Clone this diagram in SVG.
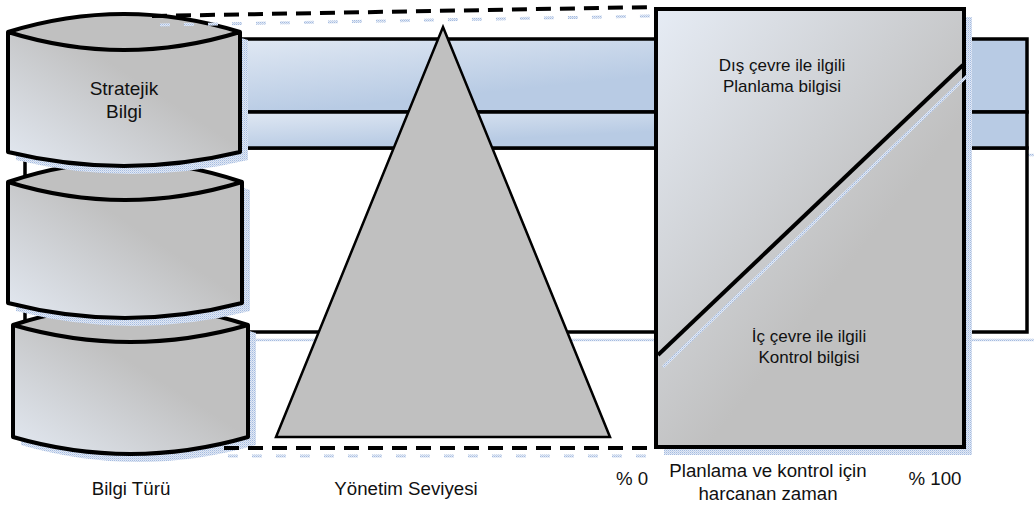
<svg xmlns="http://www.w3.org/2000/svg" width="1034" height="506" viewBox="0 0 1034 506">
  <style>
    .lbl { font-family: "Liberation Sans", Arial, sans-serif; fill: #111; text-anchor: middle; }
    .edge { fill: none; stroke: #000; stroke-linejoin: round; }
    .shade { fill: url(#chk); }
    .shade-line { fill: none; stroke: url(#chk); }
    .dash { fill: none; stroke: #000; stroke-width: 4; stroke-dasharray: 15 9; }
    .dash-shade { fill: none; stroke: url(#chk); stroke-width: 3; stroke-dasharray: 10 14; }
  </style>
  <defs>
    <!-- soft blue checker used for drop shadows -->
    <pattern id="chk" width="2" height="2" patternUnits="userSpaceOnUse">
      <rect width="2" height="2" fill="#e2e9f5"/>
      <rect width="1" height="1" fill="#a4bbe0"/>
      <rect x="1" y="1" width="1" height="1" fill="#c3d2ea"/>
    </pattern>
    <linearGradient id="cylBody" x1="0" y1="1" x2="0.75" y2="0.25">
      <stop offset="0" stop-color="#e3e9f2"/>
      <stop offset="0.75" stop-color="#c0c0c0"/>
    </linearGradient>
    <linearGradient id="bandTop" gradientUnits="userSpaceOnUse" x1="240" y1="39" x2="248" y2="117">
      <stop offset="0" stop-color="#e0e8f3"/>
      <stop offset="1" stop-color="#b8cbe4"/>
    </linearGradient>
    <linearGradient id="bandLow" gradientUnits="userSpaceOnUse" x1="240" y1="112" x2="242" y2="152">
      <stop offset="0" stop-color="#e0e8f3"/>
      <stop offset="1" stop-color="#b8cbe4"/>
    </linearGradient>
    <linearGradient id="chartFill" gradientUnits="userSpaceOnUse" x1="656" y1="9" x2="900" y2="200">
      <stop offset="0" stop-color="#e6ecf5"/>
      <stop offset="1" stop-color="#c0c0c0"/>
    </linearGradient>
  </defs>

  <!-- horizontal information bands behind everything -->
  <g id="bands">
    <line class="shade-line" x1="250" y1="155" x2="1034" y2="155" stroke-width="2.5"/>
    <line class="shade-line" x1="255" y1="340" x2="1034" y2="340" stroke-width="2.5"/>
    <rect x="25" y="148" width="1002" height="184" fill="#fff" stroke="#000" stroke-width="3.5"/>
    <rect x="25" y="39" width="1002" height="73" fill="url(#bandTop)" stroke="#000" stroke-width="3.5"/>
    <rect x="25" y="112" width="1002" height="36" fill="url(#bandLow)" stroke="#000" stroke-width="3.5"/>
  </g>

  <!-- stacked information-type cylinders, bottom first -->
  <g id="cylinder-operational">
    <path class="shade" transform="translate(8,8)" d="M13,325 Q130.5,287 248,325 L248,437 Q130.5,471 13,437 Z"/>
    <path d="M13,325 Q130.5,287 248,325 L248,437 Q130.5,471 13,437 Z" fill="url(#cylBody)"/>
    <path d="M13,325 Q130.5,287 248,325 Q130.5,359 13,325 Z" fill="#c0c0c0"/>
    <path class="edge" stroke-width="4" d="M13,325 Q130.5,287 248,325 L248,437 Q130.5,471 13,437 Z M13,325 Q130.5,359 248,325"/>
  </g>

  <g id="cylinder-tactical">
    <path class="shade" transform="translate(8,8)" d="M8,182 Q125,142 242,182 L242,303 Q125,333 8,303 Z"/>
    <path d="M8,182 Q125,142 242,182 L242,303 Q125,333 8,303 Z" fill="url(#cylBody)"/>
    <path d="M8,182 Q125,142 242,182 Q125,218 8,182 Z" fill="#c0c0c0"/>
    <path class="edge" stroke-width="4" d="M8,182 Q125,142 242,182 L242,303 Q125,333 8,303 Z M8,182 Q125,218 242,182"/>
  </g>

  <g id="cylinder-strategic">
    <path class="shade" transform="translate(8,8)" d="M8,32 Q124,-4 240,32 L240,152 Q124,180 8,152 Z"/>
    <path d="M8,32 Q124,-4 240,32 L240,152 Q124,180 8,152 Z" fill="url(#cylBody)"/>
    <path d="M8,32 Q124,-4 240,32 Q124,68 8,32 Z" fill="#c0c0c0"/>
    <path class="edge" stroke-width="4" d="M8,32 Q124,-4 240,32 L240,152 Q124,180 8,152 Z M8,32 Q124,68 240,32"/>
    <text class="lbl" x="124" y="95" font-size="19">Stratejik</text>
    <text class="lbl" x="124" y="118" font-size="19">Bilgi</text>
  </g>

  <!-- management level pyramid -->
  <g id="pyramid">
    <path d="M443,27 L610,437 L276,437 Z" fill="#c0c0c0" stroke="#000" stroke-width="2.5" stroke-linejoin="miter"/>
  </g>

  <!-- share of time spent on planning vs. control -->
  <g id="time-chart">
    <rect class="shade" x="664" y="17" width="308" height="438"/>
    <rect x="656" y="9" width="308" height="438" fill="url(#chartFill)" stroke="#000" stroke-width="4"/>
    <line class="shade-line" x1="663" y1="367" x2="967" y2="76" stroke-width="3"/>
    <line x1="658" y1="355" x2="963" y2="65" stroke="#000" stroke-width="4"/>
    <text class="lbl" x="782" y="71" font-size="17">Dış çevre ile ilgili</text>
    <text class="lbl" x="782" y="92" font-size="17">Planlama bilgisi</text>
    <text class="lbl" x="809" y="342" font-size="17">İç çevre ile ilgili</text>
    <text class="lbl" x="809" y="363" font-size="17">Kontrol bilgisi</text>
  </g>

  <!-- dashed guides tying the three views together -->
  <g id="connectors">
    <line class="dash-shade" x1="160" y1="25" x2="655" y2="16"/>
    <line class="dash-shade" x1="228" y1="456" x2="655" y2="456"/>
    <line class="dash" x1="152" y1="16" x2="654" y2="7"/>
    <line class="dash" x1="224" y1="448" x2="654" y2="448"/>
  </g>

  <!-- axis captions -->
  <g id="captions">
    <text class="lbl" x="131" y="495" font-size="18.7">Bilgi Türü</text>
    <text class="lbl" x="406" y="495" font-size="18.7">Yönetim Seviyesi</text>
    <text class="lbl" x="632" y="485" font-size="18.7">% 0</text>
    <text class="lbl" x="935" y="485" font-size="18.7">% 100</text>
    <text class="lbl" x="768" y="477" font-size="18.7">Planlama ve kontrol için</text>
    <text class="lbl" x="768" y="500" font-size="18.7">harcanan zaman</text>
  </g>
</svg>
